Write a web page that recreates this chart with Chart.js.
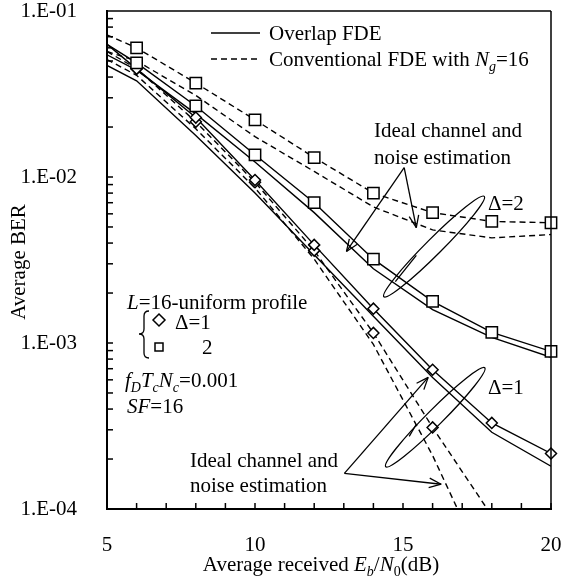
<!DOCTYPE html>
<html>
<head>
<meta charset="utf-8">
<script src="https://cdn.jsdelivr.net/npm/chart.js@4.4.0/dist/chart.umd.min.js"></script>
<style>
  html, body { margin: 0; padding: 0; background: #fff; }
  #wrap { width: 565px; height: 580px; position: relative; }
</style>
</head>
<body>
<div id="wrap"><canvas id="berChart"></canvas></div>
<script>
// Average received Eb/N0 (dB)
const ebn0 = [5, 6, 8, 10, 12, 14, 16, 18, 20];
const ebn0Conv1 = [5, 6, 8, 10, 12, 14, 16, 18];
const ebn0Conv1Ideal = [5, 6, 8, 10, 12, 14, 16, 17];

// Average BER
const convD2      = [0.0717, 0.060, 0.0368, 0.0221, 0.0131, 0.0080, 0.0061, 0.0054, 0.0053];
const convD2Ideal = [0.057, 0.050, 0.031, 0.0175, 0.0108, 0.0066, 0.0048, 0.0043, 0.0045];
const overD2      = [0.063, 0.0487, 0.0268, 0.0136, 0.0070, 0.0032, 0.00178, 0.00116, 0.00089];
const overD2Ideal = [0.0545, 0.044, 0.024, 0.0123, 0.0061, 0.0028, 0.00159, 0.00108, 0.00082];
const overD1      = [0.063, 0.0448, 0.0228, 0.0096, 0.0039, 0.00161, 0.00069, 0.00033, 0.000216];
const overD1Ideal = [0.047, 0.038, 0.0178, 0.0080, 0.0034, 0.00145, 0.00062, 0.00029, 0.000181];
const convD1      = [0.057, 0.045, 0.0215, 0.0093, 0.0036, 0.00115, 0.00031, 0.000091];
const convD1Ideal = [0.051, 0.041, 0.0195, 0.0086, 0.0032, 0.00098, 0.00021, 0.000087];

const xTicks = [5, 10, 15, 20];
const yTicks = [1e-4, 1e-3, 1e-2, 1e-1];
const yTickLabels = ['1.E-04', '1.E-03', '1.E-02', '1.E-01'];

const FONT = "'Liberation Serif', 'Times New Roman', serif";
const FS = 21;

Chart.defaults.font.family = FONT;
Chart.defaults.font.size = FS;
Chart.defaults.color = '#000';

function pts(xs, ys) {
    return xs.map((x, i) => ({ x: x, y: ys[i] }));
}

function curve(xs, ys, dashed) {
    return {
        data: pts(xs, ys),
        showLine: true,
        borderColor: '#000',
        borderWidth: 1.4,
        borderDash: dashed ? [6, 4] : [],
        pointRadius: 0,
        tension: 0,
        fill: false,
        order: 2
    };
}

// markers sit on the simulated points (6..20 dB)
function marks(xs, ys, style, r) {
    return {
        data: pts(xs.slice(1), ys.slice(1)),
        showLine: false,
        pointStyle: style,
        pointRadius: r,
        pointBackgroundColor: '#fff',
        pointBorderColor: '#000',
        pointBorderWidth: 1.5,
        clip: false,
        order: 1
    };
}

// rich text: parts = [[text, flags]] with flags 'i' italic, 's' subscript
function drawRich(ctx, parts, x, y, size, align) {
    const fontOf = (f) => (f.includes('i') ? 'italic ' : '') +
        (f.includes('s') ? Math.round(size * 0.65) : size) + 'px ' + FONT;
    let w = 0;
    parts.forEach(([t, f = '']) => { ctx.font = fontOf(f); w += ctx.measureText(t).width; });
    let cx = align === 'center' ? x - w / 2 : x;
    ctx.textAlign = 'left';
    ctx.textBaseline = 'alphabetic';
    parts.forEach(([t, f = '']) => {
        ctx.font = fontOf(f);
        ctx.fillText(t, cx, y + (f.includes('s') ? size * 0.22 : 0));
        cx += ctx.measureText(t).width;
    });
}

function line(ctx, x1, y1, x2, y2) {
    ctx.beginPath();
    ctx.moveTo(x1, y1);
    ctx.lineTo(x2, y2);
    ctx.stroke();
}

function arrow(ctx, from, to) {
    line(ctx, from[0], from[1], to[0], to[1]);
    const ang = Math.atan2(to[1] - from[1], to[0] - from[0]);
    const len = 13, spread = 0.38;
    line(ctx, to[0], to[1], to[0] - len * Math.cos(ang - spread), to[1] - len * Math.sin(ang - spread));
    line(ctx, to[0], to[1], to[0] - len * Math.cos(ang + spread), to[1] - len * Math.sin(ang + spread));
}

const decorations = {
    id: 'decorations',
    afterDraw(chart) {
        const { ctx, chartArea: a, scales: { x, y } } = chart;
        const P = (d) => [x.getPixelForValue(d[0]), y.getPixelForValue(d[1])];
        ctx.save();
        ctx.strokeStyle = '#000';
        ctx.fillStyle = '#000';
        ctx.setLineDash([]);

        // frame
        ctx.lineWidth = 2;
        line(ctx, a.left, a.top - 1, a.left, a.bottom + 1);
        line(ctx, a.left - 1, a.bottom, a.right + 1, a.bottom);
        ctx.lineWidth = 1.5;
        line(ctx, a.left, a.top, a.right, a.top);
        line(ctx, a.right, a.top, a.right, a.bottom);

        // inward ticks
        ctx.lineWidth = 1.5;
        for (let v = 5; v <= 20; v++) {
            const px = x.getPixelForValue(v);
            line(ctx, px, a.bottom, px, a.bottom - 6);
        }
        for (let d = -4; d < -1; d++) {
            for (let m = 1; m <= 9; m++) {
                const py = y.getPixelForValue(m * Math.pow(10, d));
                line(ctx, a.left, py, a.left + 6, py);
            }
        }

        // legend
        ctx.lineWidth = 1.4;
        line(ctx, 211, 33, 260, 33);
        ctx.setLineDash([6, 4]);
        line(ctx, 211, 59, 260, 59);
        ctx.setLineDash([]);
        drawRich(ctx, [['Overlap FDE']], 269, 40, FS);
        drawRich(ctx, [['Conventional FDE with '], ['N', 'i'], ['g', 'is'], ['=16']], 269, 66, FS);

        // arrows and ellipses
        ctx.lineWidth = 1.3;
        const upApex = P([15.04, 0.0114]);
        arrow(ctx, upApex, P([13.09, 0.00356]));
        arrow(ctx, upApex, P([15.45, 0.00496]));
        const loApex = P([13.02, 0.000164]);
        arrow(ctx, loApex, P([15.85, 0.000621]));
        arrow(ctx, loApex, P([16.29, 0.000141]));

        const e2 = P([16.05, 0.00381]);
        ctx.beginPath();
        ctx.ellipse(e2[0], e2[1], 71, 8, -Math.PI / 4, 0, Math.PI * 2);
        ctx.stroke();
        const e1 = P([16.09, 0.000357]);
        ctx.beginPath();
        ctx.ellipse(e1[0], e1[1], 70, 8, -Math.PI / 4, 0, Math.PI * 2);
        ctx.stroke();
        const l2a = P([15.45, 0.00337]), l2b = P([14.74, 0.00234]);
        line(ctx, l2a[0], l2a[1], l2b[0], l2b[1]);
        const l1a = P([15.45, 0.000324]), l1b = P([15.21, 0.000274]);
        line(ctx, l1a[0], l1a[1], l1b[0], l1b[1]);

        // annotation text
        drawRich(ctx, [['Ideal channel and']], 374, 137, FS);
        drawRich(ctx, [['noise estimation']], 374, 164, FS);
        drawRich(ctx, [['\u0394=2']], 488, 210, FS);
        drawRich(ctx, [['\u0394=1']], 488, 394, FS);
        drawRich(ctx, [['Ideal channel and']], 190, 467, FS);
        drawRich(ctx, [['noise estimation']], 190, 492, FS);

        drawRich(ctx, [['L', 'i'], ['=16-uniform profile']], 127, 309, FS);
        drawRich(ctx, [['\u0394=1']], 175, 329, FS);
        drawRich(ctx, [['2']], 202, 354, FS);
        drawRich(ctx, [['f', 'i'], ['D', 'is'], ['T', 'i'], ['c', 'is'], ['N', 'i'], ['c', 'is'], ['=0.001']], 125, 387, FS);
        drawRich(ctx, [['SF', 'i'], ['=16']], 127, 413, FS);

        // brace and symbol key
        ctx.lineWidth = 1.3;
        ctx.beginPath();
        ctx.moveTo(149, 311);
        ctx.quadraticCurveTo(144, 311, 144, 316);
        ctx.lineTo(144, 329);
        ctx.quadraticCurveTo(144, 334, 139, 334);
        ctx.quadraticCurveTo(144, 334, 144, 339);
        ctx.lineTo(144, 353);
        ctx.quadraticCurveTo(144, 358, 149, 358);
        ctx.stroke();
        ctx.lineWidth = 1.5;
        ctx.beginPath();
        ctx.moveTo(159, 314); ctx.lineTo(165, 320); ctx.lineTo(159, 326); ctx.lineTo(153, 320);
        ctx.closePath();
        ctx.stroke();
        ctx.strokeRect(155, 343, 8, 8);

        // axis titles
        drawRich(ctx, [['Average received '], ['E', 'i'], ['b', 'is'], ['/'], ['N', 'i'], ['0', 's'], ['(dB)']], 321, 571, FS, 'center');
        ctx.save();
        ctx.translate(25, 262);
        ctx.rotate(-Math.PI / 2);
        drawRich(ctx, [['Average BER']], 0, 0, FS, 'center');
        ctx.restore();

        ctx.restore();
    }
};

new Chart(document.getElementById('berChart'), {
    type: 'scatter',
    data: {
        datasets: [
            marks(ebn0, convD2, 'rect', 8),
            marks(ebn0, overD2, 'rect', 8),
            marks(ebn0, overD1, 'rectRot', 5.5),
            marks(ebn0Conv1.slice(0, 7), convD1.slice(0, 7), 'rectRot', 5.5),
            curve(ebn0, convD2, true),
            curve(ebn0, convD2Ideal, true),
            curve(ebn0, overD2, false),
            curve(ebn0, overD2Ideal, false),
            curve(ebn0, overD1, false),
            curve(ebn0, overD1Ideal, false),
            curve(ebn0Conv1, convD1, true),
            curve(ebn0Conv1Ideal, convD1Ideal, true)
        ]
    },
    options: {
        responsive: true,
        maintainAspectRatio: false,
        animation: false,
        layout: {
            padding: { top: 11, right: 14, left: 0, bottom: 0 }
        },
        plugins: {
            legend: { display: false },
            tooltip: { enabled: false }
        },
        scales: {
            x: {
                type: 'linear',
                min: 5,
                max: 20,
                grid: { display: false },
                border: { display: false },
                afterBuildTicks: (axis) => { axis.ticks = xTicks.map(v => ({ value: v })); },
                afterFit: (scale) => {
                    scale.height = 71;
                    scale.paddingLeft = 0;
                    scale.paddingRight = 0;
                },
                ticks: {
                    padding: 18,
                    maxRotation: 0,
                    font: { size: FS, lineHeight: 1 }
                }
            },
            y: {
                type: 'logarithmic',
                min: 1e-4,
                max: 1e-1,
                grid: { display: false },
                border: { display: false },
                afterBuildTicks: (axis) => { axis.ticks = yTicks.map(v => ({ value: v })); },
                afterFit: (scale) => {
                    scale.width = 107;
                    scale.paddingTop = 0;
                    scale.paddingBottom = 0;
                },
                ticks: {
                    padding: 22,
                    font: { size: FS, lineHeight: 1 },
                    callback: (value) => yTickLabels[yTicks.indexOf(value)]
                }
            }
        }
    },
    plugins: [decorations]
});
</script>
</body>
</html>
